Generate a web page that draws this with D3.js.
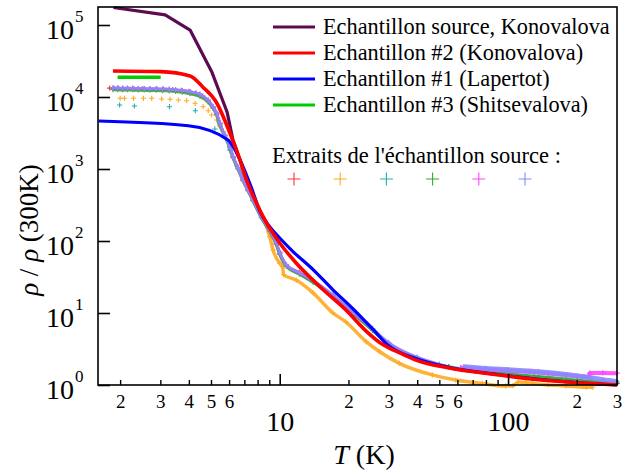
<!DOCTYPE html>
<html>
<head>
<meta charset="utf-8">
<script src="https://cdn.jsdelivr.net/npm/d3@7"></script>
<style>
body { margin: 0; background: #fff; }
svg text { font-family: "Liberation Serif", "DejaVu Serif", serif; fill: #000; }
</style>
</head>
<body>
<div id="chart"></div>
<script>
// ---- donnees : [T (K), rho/rho(300K)] ----

// courbes continues
var sourceKono = [[1.87,175000],[3.15,138000],[4.05,85000],[5.05,22000],[5.88,6200],[6.24,2520],[6.7,1330],[7.16,700]];
var ech2Kono = [[1.86,23000],[3.0,22500],[4.05,19600],[4.6,13800],[5.3,8250],[6.05,3160],[6.7,1330],[7.16,700],[7.8,370],[8.75,178],[10,94],[11.8,49.5],[15,23.2],[19.5,11.0],[23.9,5.6],[27.4,3.9],[30.2,3.26],[33.4,2.81],[39.5,2.22],[55.3,1.72],[91.4,1.38],[136,1.18],[179,1.10],[240,1.04],[300,1.0]];
var ech1Lapertot = [[1.61,4640],[3.98,3990],[5.94,2530],[6.7,1340],[7.5,560],[8.18,260],[9.0,160],[10,110],[11.4,72],[14,40],[17.1,21],[20.9,11.5],[25.5,6.0],[30,3.5],[40,2.3],[55,1.76],[90,1.40],[180,1.11],[300,1.0]];
var ech3Shits = [[1.95,18800],[3.01,18800]];

// extraits de l'echantillon source (croix)
var extRouge = [[1.80,13300],[1.88,13200],[1.97,13200],[2.06,13100],[2.16,13100],[2.3,13000],[2.5,13000],[2.7,12900],[2.9,12900],[3.1,12800],[3.4,12700],[3.7,12400],[4.0,12000],[4.3,11400],[4.6,10300],[4.86,9000],[5.1,7300],[5.3,6000],[5.5,4300],[5.75,2950],[6.05,2040],[6.25,1480],[6.58,1020],[6.9,700],[7.27,510],[7.65,371],[8.32,217],[9.04,142],[9.67,93],[10,70],[10.7,47],[12.2,37],[14,28],[17.1,17.5],[20.9,10],[25.5,6.0],[30,3.8],[40,2.4],[55,1.8],[80,1.5],[130,1.3],[200,1.15],[300,1.05]];
var extOrangeSparse = [[2.0,9590],[2.09,9590],[2.29,9590],[2.53,9590],[2.75,9590],[3.04,9380],[3.31,9300],[3.6,9080],[3.91,8890],[4.26,8180],[4.62,7330],[4.86,6450],[5.03,5620],[5.29,4790],[5.47,3870],[5.65,3300],[6.05,2040],[6.47,1135],[6.8,870]];
var extOrange = [[7.27,567],[7.62,370],[8.43,217],[9.04,115],[9.35,75],[10,49],[10.3,44],[10.4,34],[11.8,28.7],[14,19],[17.1,10],[19.5,7.5],[23.9,4.0],[27.4,2.9],[33.4,2.0],[46.6,1.38],[59,1.17],[77,1.05],[97.6,0.97],[105,0.98],[111,1.1],[120,1.08],[128,1.05],[150,1.0],[179,0.97],[220,0.93],[235,0.93]];
var extTealSparse = [[1.99,7740],[2.31,7500],[3.29,7330],[4.27,6450],[5.2,3600],[6.05,1835]];
var extTeal = [[6.05,1835],[6.5,1100],[7.0,700],[7.65,360],[8.32,210],[9.04,138],[9.67,90],[10,66],[10.7,45],[12.2,35],[14,27],[17.1,17],[20.9,10],[25.5,5.8],[30,3.7],[40,2.3],[55,1.8],[80,1.5],[130,1.3],[200,1.15],[300,1.05]];
var extVert = [[1.86,12700],[1.95,12700],[2.05,12600],[2.15,12600],[2.27,12600],[2.4,12500],[2.55,12500],[2.7,12400],[2.88,12400],[3.07,12300],[3.28,12200],[3.5,12000],[3.75,11700],[4.05,11200],[4.47,10300],[4.86,8600],[5.11,7000],[5.29,5700],[5.47,4100],[5.75,2850],[6.05,1980],[6.25,1440],[6.58,990],[6.91,690],[7.27,500],[7.65,365],[8.32,212],[9.04,138],[9.67,90],[10,66],[10.7,45],[12.2,35],[14,27],[17.1,17],[20.9,10],[25.5,5.8],[30,3.7],[40,2.3],[50,1.88],[63,1.62],[80,1.50],[100,1.42],[136,1.30],[180,1.20],[233,1.11],[300,1.06]];
var extMagenta = [[1.86,13300],[1.95,13300],[2.05,13200],[2.15,13200],[2.27,13200],[2.4,13100],[2.55,13100],[2.7,13000],[2.88,13000],[3.07,12900],[3.28,12800],[3.5,12600],[3.75,12300],[4.05,11800],[4.47,10900],[4.86,9000],[5.11,7200],[5.29,5900],[5.47,4250],[5.75,2920],[6.05,2020],[6.25,1460],[6.58,1010],[6.91,700],[7.27,505],[7.65,368],[8.32,215],[9.04,140],[9.67,92],[10,68],[10.7,46],[12.2,36],[14,28],[17.1,17.5],[20.9,10.2],[25.5,6.0],[30,3.8],[40,2.4],[50,1.92]];
var extMagentaHaut = [[62,1.75],[100,1.58],[150,1.45],[200,1.33],[225,1.28],[228,1.47],[260,1.47],[300,1.46]];
var extLavande = [[1.86,13400],[1.95,13400],[2.05,13300],[2.15,13300],[2.27,13300],[2.4,13200],[2.55,13200],[2.7,13100],[2.88,13100],[3.07,13000],[3.28,12900],[3.5,12700],[3.75,12400],[4.05,11900],[4.47,11000],[4.86,9080],[5.11,7330],[5.29,6000],[5.47,4310],[5.75,2950],[6.05,2040],[6.25,1480],[6.58,1020],[6.91,703],[7.27,510],[7.65,371],[8.32,217],[9.04,142],[9.67,93],[10,69],[10.7,47],[12.2,36.5],[14,28.5],[17.1,18],[20.9,10.4],[25.5,6.1],[30,3.9],[40,2.45],[50,1.95]];
var extLavandeHaut = [[64,1.80],[80,1.70],[100,1.63],[136,1.53],[180,1.40],[215,1.30],[233,1.25],[260,1.18],[300,1.11]];

// graduations
var yTicks = [1, 10, 100, 1000, 10000, 100000];
var xMajor = [10, 100];
var xMinor = [2,3,4,5,6,7,8,9,20,30,40,50,60,70,80,90,200,300];
var xMinorLabels = [2,3,4,5,6,20,30,40,50,60,200,300];

// legende
var legendLines = [
  {label: "Echantillon source, Konovalova", color: "#5c0a52"},
  {label: "Echantillon #2 (Konovalova)", color: "#ff0000"},
  {label: "Echantillon #1 (Lapertot)", color: "#0000ff"},
  {label: "Echantillon #3 (Shitsevalova)", color: "#00cc00"}
];
var crossColors = ["#ff3333", "#ffaa22", "#22b0b0", "#33aa33", "#ff44ff", "#8888ff"];

// ---- dessin ----
var width = 622, height = 472;
var svg = d3.select("#chart").append("svg")
    .attr("width", width)
    .attr("height", height)
    .style("font-family", "'Liberation Serif', 'DejaVu Serif', serif");

var x = d3.scaleLog().domain([1.6, 300]).range([98, 617]);
var y = d3.scaleLog().domain([1, Math.pow(10, 5.25)]).range([385, 7]);

var smooth = d3.line()
    .x(function(d) { return x(d[0]); })
    .y(function(d) { return y(d[1]); })
    .curve(d3.curveMonotoneX);
var straight = d3.line()
    .x(function(d) { return x(d[0]); })
    .y(function(d) { return y(d[1]); });

var plot = svg.append("g");

// croix
function crosses(data, color, size) {
  var s = size || 2.6;
  plot.append("g").selectAll("path")
    .data(data)
    .enter().append("path")
      .attr("transform", function(d) { return "translate(" + x(d[0]) + "," + y(d[1]) + ")"; })
      .attr("d", "M" + (-s) + ",0H" + s + "M0," + (-s) + "V" + s)
      .attr("stroke", color)
      .attr("stroke-width", 1.1)
      .attr("fill", "none");
}
// bande dense de croix
function band(data, color, w) {
  plot.append("path")
    .datum(data)
    .attr("d", smooth)
    .attr("fill", "none")
    .attr("stroke", color)
    .attr("stroke-width", w || 3)
    .attr("stroke-opacity", 0.9);
  crosses(data, color);
}

band(extRouge, crossColors[0], 2);
crosses(extOrangeSparse, crossColors[1]);
band(extOrange, crossColors[1], 3.5);
crosses(extTealSparse, crossColors[2]);
band(extTeal, crossColors[2], 3);
band(extVert, crossColors[3], 3.5);
band(extMagenta, crossColors[4], 2.5);
band(extMagentaHaut, crossColors[4], 4);
band(extLavande, crossColors[5], 2.5);
band(extLavandeHaut, crossColors[5], 5);

// courbes
function curve(data, color, w, gen) {
  plot.append("path")
    .datum(data)
    .attr("d", gen)
    .attr("fill", "none")
    .attr("stroke", color)
    .attr("stroke-width", w)
    .attr("stroke-linejoin", "round");
}
curve(sourceKono, legendLines[0].color, 3.2, straight);
curve(ech1Lapertot, legendLines[2].color, 3.2, smooth);
curve(ech3Shits, legendLines[3].color, 3.5, straight);
curve(ech2Kono, legendLines[1].color, 3.6, smooth);

// cadre
svg.append("rect")
    .attr("x", 98).attr("y", 7)
    .attr("width", 617 - 98).attr("height", 385 - 7)
    .attr("fill", "none")
    .attr("stroke", "#000")
    .attr("stroke-width", 1.6);

// axe x : petites graduations
var xAxisMinor = d3.axisBottom(x)
    .tickValues(xMinor)
    .tickSize(-5)
    .tickPadding(10)
    .tickFormat(function(d) { return xMinorLabels.indexOf(d) >= 0 ? String(d).charAt(0) : ""; });
var gxm = svg.append("g")
    .attr("transform", "translate(0,385)")
    .call(xAxisMinor);
gxm.select(".domain").remove();
gxm.attr("font-family", null);
gxm.selectAll("line").attr("stroke-width", 1.4);
gxm.selectAll("text").style("font-size", "19px").attr("fill", "#000");

// axe x : decades
var xAxisMajor = d3.axisBottom(x)
    .tickValues(xMajor)
    .tickSize(-11)
    .tickPadding(26)
    .tickFormat(d3.format("d"));
var gxM = svg.append("g")
    .attr("transform", "translate(0,385)")
    .call(xAxisMajor);
gxM.select(".domain").remove();
gxM.attr("font-family", null);
gxM.selectAll("line").attr("stroke-width", 1.6);
gxM.selectAll("text").style("font-size", "28px").attr("fill", "#000");

// axe y
var yAxis = d3.axisLeft(y)
    .tickValues(yTicks)
    .tickSize(-12)
    .tickFormat("");
var gy = svg.append("g")
    .attr("transform", "translate(98,0)")
    .call(yAxis);
gy.select(".domain").remove();
gy.attr("font-family", null);
gy.selectAll("line").attr("stroke-width", 1.6);
gy.selectAll(".tick").each(function(d) {
  var t = d3.select(this);
  t.append("text")
    .attr("x", -24).attr("y", 13)
    .attr("text-anchor", "end")
    .style("font-size", "28px")
    .text("10");
  t.append("text")
    .attr("x", -23).attr("y", -4)
    .attr("text-anchor", "start")
    .style("font-size", "17px")
    .text(Math.round(Math.log10(d)));
});

// titres des axes
var xt = svg.append("text")
    .attr("x", 364).attr("y", 464)
    .attr("text-anchor", "middle")
    .style("font-size", "28px");
xt.append("tspan").style("font-style", "italic").text("T");
xt.append("tspan").text(" (K)");

var yt = svg.append("text")
    .attr("transform", "translate(38,230) rotate(-90)")
    .attr("text-anchor", "middle")
    .style("font-size", "27px");
yt.append("tspan").style("font-style", "italic").text("ρ");
yt.append("tspan").text(" / ");
yt.append("tspan").style("font-style", "italic").text("ρ");
yt.append("tspan").text(" (300K)");

// legende
var leg = svg.append("g");
legendLines.forEach(function(d, i) {
  var ly = 27 + i * 26;
  leg.append("line")
    .attr("x1", 273).attr("x2", 315)
    .attr("y1", ly).attr("y2", ly)
    .attr("stroke", d.color)
    .attr("stroke-width", 3.2);
  leg.append("text")
    .attr("x", 323).attr("y", ly + 7)
    .style("font-size", "22.3px")
    .text(d.label);
});
leg.append("text")
    .attr("x", 272).attr("y", 163)
    .style("font-size", "22.5px")
    .text("Extraits de l'échantillon source :");
crossColors.forEach(function(c, i) {
  var cx = 294 + i * 46.2, s = 6.5;
  leg.append("path")
    .attr("d", "M" + (cx - s) + ",179H" + (cx + s) + "M" + cx + "," + (179 - s) + "V" + (179 + s))
    .attr("stroke", c)
    .attr("stroke-width", 1.1)
    .attr("fill", "none");
});
</script>
</body>
</html>
